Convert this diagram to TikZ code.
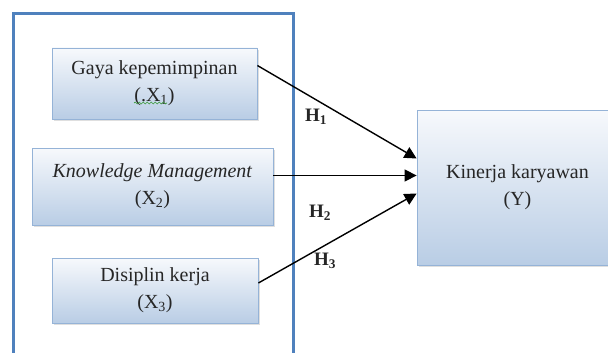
\documentclass[tikz,border=0pt]{standalone}
\usepackage{fontspec}
\setmainfont{Liberation Serif}
\usetikzlibrary{arrows.meta,shadows,decorations.pathmorphing}

\definecolor{frameblue}{HTML}{4F81BD}
\definecolor{boxedge}{HTML}{95B3D7}
\definecolor{boxtop}{HTML}{F7F9FC}
\definecolor{boxbot}{HTML}{B9CDE5}
\definecolor{inktext}{HTML}{262626}
\definecolor{spellgreen}{HTML}{3A9A3A}

\tikzset{
  varbox/.style={draw=boxedge, line width=0.8pt, top color=boxtop, bottom color=boxbot,
    align=center, text=inktext, inner sep=0pt, font=\fontsize{20}{27}\selectfont,
    drop shadow={opacity=0.25, shadow xshift=2pt, shadow yshift=-2pt}},
  hyp/.style={text=inktext, font=\fontsize{19}{20}\selectfont\bfseries},
  link/.style={line width=1.4pt, -{Triangle[length=12pt,width=12pt]}}
}

\begin{document}
\begin{tikzpicture}[x=1pt, y=-1pt]
\def \xframel {13.5};
\def \xframer {293.5};
\def \yframet {13.5};

\useasboundingbox (0,0) rectangle (608,353);
\fill [white] (0,0) rectangle (608,353);

% outer frame
\draw [frameblue, line width=3pt] (\xframel, 375) |- (\xframer, \yframet) -- (\xframer, 375);

% variables
\node [varbox, minimum width=205pt, minimum height=71pt] (x1) at (154.5, 83.5)
  {Gaya kepemimpinan\\(.X\textsubscript{1})};
\node [varbox, minimum width=241pt, minimum height=77pt] (x2) at (152.5, 186.5)
  {\textit{Knowledge Management}\\(X\textsubscript{2})};
\node [varbox, minimum width=206pt, minimum height=65pt] (x3) at (155, 290.5)
  {Disiplin kerja\\(X\textsubscript{3})};
\node [varbox, minimum width=201pt, minimum height=155pt] (y) at (517.5, 187.5)
  {Kinerja karyawan\\(Y)};

% spell check mark
\draw [spellgreen, line width=0.7pt, decorate,
  decoration={snake, segment length=4pt, amplitude=1pt}] (134, 103) -- (167, 103);

% hypotheses
\draw [link] ([yshift=18pt]x1.east) -- ([yshift=29pt]y.west);
\draw [link] ([yshift=11pt]x2.east) -- ([yshift=11pt]x2.east -| y.west);
\draw [link] ([yshift=7.5pt]x3.east) -- ([yshift=-6pt]y.west);

\node [hyp] (h1) at (316, 117) {H\textsubscript{1}};
\node [hyp] (h2) at (320, 213) {H\textsubscript{2}};
\node [hyp] (h3) at (325, 261) {H\textsubscript{3}};

\end{tikzpicture}
\end{document}
